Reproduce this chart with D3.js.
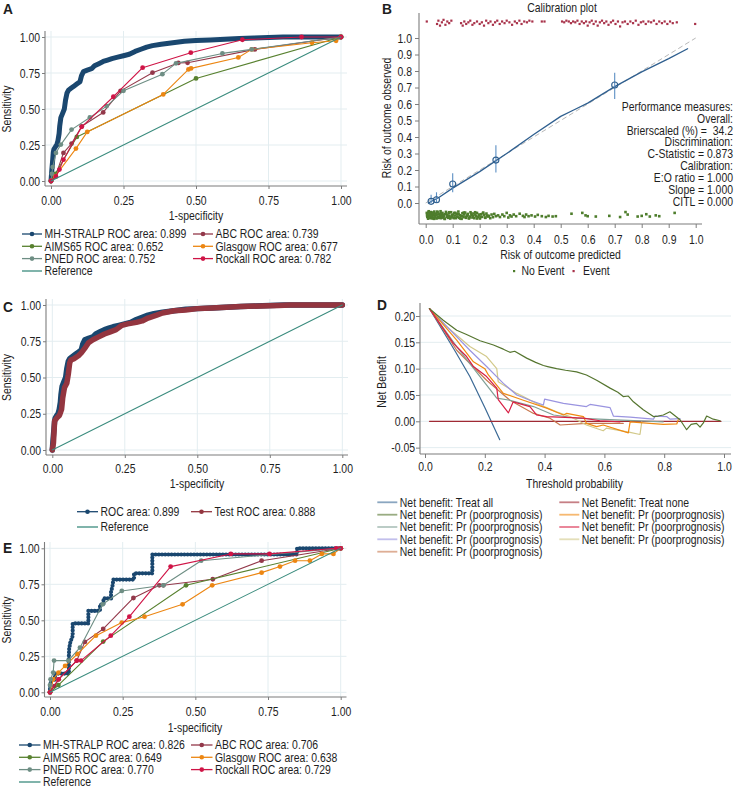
<!DOCTYPE html>
<html><head><meta charset="utf-8">
<script src="https://cdn.jsdelivr.net/npm/d3@7"></script>
<style>
body{margin:0;background:#fff}
svg{display:block}
text{font-family:"Liberation Sans",Arial,sans-serif;fill:#1e1e1e}
</style>
</head><body>
<svg id="c" width="734" height="789"></svg>
<script>
// ---------------- DATA ----------------
const rocTicks = [0, 0.25, 0.5, 0.75, 1];
const calTicks = [0,0.1,0.2,0.3,0.4,0.5,0.6,0.7,0.8,0.9,1];
const dcaXTicks = [0,0.2,0.4,0.6,0.8,1];
const dcaYTicks = [-0.05,0,0.05,0.1,0.15,0.2];

// Panel A ROC curves [1-specificity, sensitivity]
const rocA_MH = [[0,0],[0.003,0.08],[0.006,0.15],[0.008,0.2],[0.01,0.22],[0.016,0.24],[0.02,0.25],[0.024,0.28],[0.028,0.33],[0.03,0.38],[0.034,0.44],[0.04,0.47],[0.046,0.5],[0.05,0.56],[0.055,0.61],[0.06,0.63],[0.07,0.645],[0.08,0.66],[0.09,0.675],[0.1,0.69],[0.105,0.73],[0.112,0.76],[0.125,0.77],[0.14,0.78],[0.15,0.8],[0.165,0.815],[0.18,0.83],[0.195,0.84],[0.21,0.85],[0.23,0.86],[0.25,0.87],[0.27,0.88],[0.29,0.9],[0.31,0.915],[0.33,0.93],[0.35,0.94],[0.38,0.95],[0.42,0.96],[0.46,0.97],[0.5,0.975],[0.55,0.98],[0.6,0.985],[0.65,0.99],[0.7,0.993],[0.75,0.997],[0.8,1],[1,1]];
const rocA_ABC = [[0,0],[0.015,0.03],[0.043,0.195],[0.071,0.26],[0.106,0.38],[0.18,0.476],[0.24,0.626],[0.35,0.752],[0.439,0.82],[0.471,0.821],[0.703,0.914],[1,1]];
const rocA_AIMS = [[0,0],[0.015,0.05],[0.089,0.306],[0.5,0.712],[1,1]];
const rocA_Glasgow = [[0,0],[0.014,0.032],[0.086,0.225],[0.125,0.341],[0.387,0.601],[0.474,0.775],[0.483,0.782],[0.646,0.858],[0.692,0.914],[0.9,0.96],[0.983,0.974],[1,1]];
const rocA_PNED = [[0,0],[0.003,0.05],[0.006,0.097],[0.017,0.195],[0.034,0.253],[0.071,0.357],[0.134,0.441],[0.192,0.52],[0.25,0.626],[0.384,0.742],[0.431,0.817],[0.591,0.886],[0.692,0.914],[1,1]];
const rocA_Rockall = [[0,0],[0.017,0.032],[0.029,0.079],[0.043,0.148],[0.106,0.376],[0.215,0.585],[0.316,0.787],[0.482,0.891],[0.66,0.981],[0.864,1],[1,1]];
const refLine = [[0,0],[1,1]];
const legendA = ["MH-STRALP ROC area: 0.899","ABC ROC area: 0.739","AIMS65 ROC area: 0.652","Glasgow ROC area: 0.677","PNED ROC area: 0.752","Rockall ROC area: 0.782","Reference"];

// Panel C
const rocC_Test = [[0,0],[0.004,0.05],[0.008,0.2],[0.015,0.22],[0.025,0.24],[0.032,0.28],[0.036,0.36],[0.042,0.43],[0.05,0.46],[0.055,0.52],[0.06,0.6],[0.064,0.62],[0.075,0.63],[0.09,0.65],[0.1,0.67],[0.115,0.71],[0.125,0.74],[0.14,0.76],[0.16,0.78],[0.18,0.8],[0.2,0.815],[0.22,0.83],[0.24,0.86],[0.26,0.87],[0.29,0.88],[0.31,0.89],[0.33,0.91],[0.36,0.93],[0.38,0.945],[0.42,0.96],[0.46,0.965],[0.5,0.975],[0.55,0.98],[0.6,0.985],[0.65,0.99],[0.72,0.993],[0.78,0.997],[0.82,1],[1,1]];
const legendC = ["ROC area: 0.899","Test ROC area: 0.888","Reference"];

// Panel E
const rocE_MH = [[0,0],[0,0.043],[0.005,0.087],[0.017,0.087],[0.017,0.13],[0.065,0.13],[0.065,0.174],[0.065,0.217],[0.065,0.26],[0.066,0.304],[0.07,0.348],[0.078,0.391],[0.078,0.435],[0.078,0.478],[0.132,0.478],[0.132,0.522],[0.132,0.565],[0.172,0.565],[0.172,0.609],[0.184,0.609],[0.184,0.652],[0.21,0.652],[0.21,0.696],[0.215,0.739],[0.218,0.783],[0.289,0.783],[0.289,0.826],[0.352,0.826],[0.352,0.87],[0.352,0.913],[0.352,0.957],[0.85,0.957],[0.85,1],[1,1]];
const rocE_ABC = [[0,0],[0.015,0.043],[0.03,0.09],[0.092,0.22],[0.12,0.35],[0.183,0.44],[0.287,0.655],[0.376,0.743],[0.39,0.743],[0.56,0.785],[0.728,0.914],[1,1]];
const rocE_AIMS = [[0,0],[0.029,0.05],[0.183,0.352],[0.468,0.743],[1,1]];
const rocE_Glasgow = [[0,0],[0.011,0.09],[0.029,0.137],[0.052,0.183],[0.094,0.266],[0.158,0.393],[0.247,0.484],[0.325,0.525],[0.456,0.611],[0.558,0.743],[0.728,0.831],[0.791,0.873],[0.843,0.914],[0.894,0.914],[0.935,0.961],[0.975,0.961],[1,1]];
const rocE_PNED = [[0,0],[0,0.05],[0.002,0.09],[0.011,0.137],[0.014,0.22],[0.063,0.22],[0.103,0.31],[0.181,0.611],[0.247,0.704],[0.39,0.743],[0.52,0.914],[1,1]];
const rocE_Rockall = [[0,0],[0.029,0.09],[0.092,0.22],[0.107,0.22],[0.209,0.393],[0.273,0.525],[0.415,0.873],[0.622,0.961],[0.755,0.961],[0.985,1],[1,1]];
const legendE = ["MH-STRALP ROC area: 0.826","ABC ROC area: 0.706","AIMS65 ROC area: 0.649","Glasgow ROC area: 0.638","PNED ROC area: 0.770","Rockall ROC area: 0.729","Reference"];

// Panel B calibration
const calCurve = [[0.01,0.0],[0.05,0.035],[0.1,0.09],[0.2,0.19],[0.3,0.3],[0.4,0.415],[0.5,0.525],[0.55,0.565],[0.6,0.605],[0.7,0.705],[0.8,0.795],[0.9,0.875],[0.97,0.935]];
const calPtsX = [0.02,0.04,0.1,0.26,0.7];
const calPtsY = [0.01,0.02,0.115,0.26,0.715];
const calLo = [0.0,0.0,0.065,0.185,0.63];
const calHi = [0.05,0.065,0.18,0.35,0.79];
const eventPts = [[0.004,1.10],[0.042,1.085],[0.047,1.105],[0.053,1.075],[0.06,1.095],[0.066,1.11],[0.073,1.08],[0.08,1.1],[0.087,1.09],[0.095,1.105],[0.131,1.09],[0.137,1.075],[0.143,1.1],[0.15,1.085],[0.158,1.095],[0.165,1.105],[0.173,1.08],[0.18,1.09],[0.19,1.1],[0.2,1.085],[0.208,1.095],[0.216,1.075],[0.224,1.105],[0.232,1.09],[0.24,1.1],[0.249,1.08],[0.257,1.095],[0.265,1.105],[0.274,1.085],[0.283,1.1],[0.292,1.09],[0.3,1.105],[0.31,1.095],[0.32,1.08],[0.33,1.1],[0.338,1.09],[0.347,1.105],[0.355,1.085],[0.365,1.1],[0.375,1.095],[0.384,1.105],[0.395,1.1],[0.43,1.1],[0.44,1.1],[0.505,1.1],[0.513,1.095],[0.521,1.105],[0.53,1.1],[0.538,1.09],[0.546,1.1],[0.554,1.095],[0.562,1.105],[0.57,1.085],[0.578,1.1],[0.586,1.09],[0.594,1.1],[0.6,1.075],[0.607,1.095],[0.615,1.105],[0.622,1.085],[0.63,1.1],[0.637,1.075],[0.645,1.095],[0.653,1.105],[0.661,1.09],[0.669,1.1],[0.677,1.08],[0.686,1.095],[0.694,1.105],[0.703,1.085],[0.712,1.1],[0.72,1.07],[0.729,1.095],[0.738,1.1],[0.748,1.085],[0.758,1.1],[0.768,1.09],[0.778,1.105],[0.788,1.08],[0.797,1.095],[0.806,1.1],[0.815,1.085],[0.825,1.1],[0.835,1.095],[0.845,1.105],[0.855,1.085],[0.865,1.1],[0.875,1.09],[0.885,1.1],[0.895,1.085],[0.905,1.1],[0.915,1.09],[0.93,1.095],[0.998,1.085]];
const noEventX = [0.004,0.006,0.007,0.009,0.011,0.012,0.014,0.015,0.017,0.019,
0.02,0.022,0.024,0.025,0.027,0.029,0.031,0.032,0.034,0.036,
0.038,0.04,0.042,0.044,0.046,0.048,0.05,0.053,0.055,0.057,
0.06,0.062,0.065,0.067,0.07,0.072,0.075,0.078,0.08,0.083,
0.086,0.088,0.091,0.094,0.097,0.1,0.103,0.106,0.109,0.112,
0.115,0.118,0.121,0.124,0.127,0.13,0.133,0.136,0.14,0.143,
0.146,0.15,0.153,0.156,0.16,0.163,0.166,0.17,0.173,0.177,
0.18,0.184,0.187,0.19,0.194,0.198,0.201,0.205,0.209,0.213,
0.217,0.221,0.225,0.23,0.234,0.239,0.244,0.249,0.254,0.26,
0.268,0.275,0.284,0.291,0.3,0.306,0.312,0.318,0.326,0.335,
0.348,0.36,0.366,0.372,0.381,0.392,0.405,0.415,0.43,0.445,
0.455,0.47,0.482,0.54,0.58,0.592,0.6,0.63,0.68,0.72,
0.74,0.748,0.785,0.8,0.817,0.83,0.852,0.865,0.922,
0.005,0.01,0.013,0.016,0.021,0.026,0.03,0.035,0.039,0.043,
0.047,0.052,0.056,0.061,0.066,0.071,0.076,0.081,0.087,0.092,
0.098,0.104,0.11,0.116,0.122,0.128,0.135,0.141,0.148,0.155,
0.162,0.169,0.176,0.183,0.19,0.197,0.204,0.212,0.22,0.228];
const noEventY = [-0.06,-0.085,-0.07,-0.095,-0.05,-0.078,-0.09,-0.062,-0.082,-0.055,
-0.092,-0.068,-0.08,-0.058,-0.088,-0.072,-0.096,-0.052,-0.076,-0.086,
-0.064,-0.094,-0.07,-0.056,-0.084,-0.09,-0.066,-0.078,-0.05,-0.092,
-0.074,-0.06,-0.088,-0.08,-0.096,-0.068,-0.054,-0.084,-0.072,-0.09,
-0.062,-0.078,-0.094,-0.056,-0.082,-0.07,-0.088,-0.06,-0.076,-0.092,
-0.066,-0.084,-0.052,-0.09,-0.074,-0.08,-0.096,-0.062,-0.086,-0.07,
-0.058,-0.09,-0.078,-0.066,-0.094,-0.082,-0.056,-0.074,-0.088,-0.064,
-0.092,-0.07,-0.08,-0.06,-0.086,-0.076,-0.094,-0.068,-0.084,-0.058,
-0.072,-0.09,-0.064,-0.082,-0.078,-0.092,-0.07,-0.086,-0.066,-0.08,
-0.075,-0.085,-0.07,-0.08,-0.06,-0.088,-0.075,-0.082,-0.07,-0.08,
-0.065,-0.078,-0.085,-0.07,-0.08,-0.075,-0.082,-0.072,-0.08,-0.085,
-0.078,-0.082,-0.08,-0.065,-0.06,-0.075,-0.08,-0.082,-0.078,-0.085,
-0.055,-0.07,-0.082,-0.078,-0.068,-0.082,-0.075,-0.08,-0.06,
-0.075,-0.058,-0.088,-0.066,-0.08,-0.094,-0.06,-0.084,-0.07,-0.052,
-0.09,-0.076,-0.062,-0.086,-0.072,-0.096,-0.064,-0.08,-0.056,-0.088,
-0.074,-0.092,-0.06,-0.082,-0.068,-0.094,-0.078,-0.058,-0.086,-0.072,
-0.09,-0.064,-0.08,-0.056,-0.094,-0.07,-0.084,-0.062,-0.088,-0.076];
const perfText = ["Performance measures:","Overall:","Brierscaled (%) =  34.2","Discrimination:","C-Statistic = 0.873","Calibration:","E:O ratio = 1.000","Slope = 1.000","CITL = 0.000"];

// Panel D decision curves [threshold, net benefit]
const nbTreatAll = [[0.015,0.214],[0.1,0.134],[0.15,0.085],[0.2,0.026],[0.25,-0.035]];
const nbTreatNone = [[0.015,0],[0.99,0]];
const nbGreen = [[0.015,0.214],[0.061,0.192],[0.106,0.173],[0.139,0.165],[0.184,0.153],[0.229,0.145],[0.262,0.137],[0.284,0.131],[0.3,0.133],[0.34,0.12],[0.37,0.112],[0.396,0.106],[0.41,0.104],[0.44,0.1],[0.47,0.097],[0.507,0.094],[0.54,0.088],[0.574,0.078],[0.619,0.063],[0.645,0.055],[0.663,0.047],[0.68,0.048],[0.697,0.037],[0.73,0.022],[0.764,0.009],[0.78,0.01],[0.797,0.012],[0.819,0.018],[0.853,0.003],[0.875,-0.016],[0.89,-0.006],[0.908,-0.004],[0.92,-0.011],[0.931,-0.003],[0.942,0.01],[0.964,0.004],[0.987,0.001]];
const nbOrange = [[0.015,0.214],[0.106,0.154],[0.162,0.113],[0.2,0.1],[0.212,0.088],[0.262,0.053],[0.329,0.04],[0.407,0.025],[0.463,0.012],[0.474,0.015],[0.53,0.009],[0.54,-0.004],[0.574,-0.01],[0.596,-0.007],[0.68,-0.022],[0.686,-0.001],[0.797,-0.006],[0.842,-0.005],[0.847,0.003]];
const nbTeal = [[0.015,0.214],[0.106,0.142],[0.184,0.085],[0.24,0.044],[0.284,0.04],[0.363,0.028],[0.43,0.012],[0.507,0.006],[0.619,0.003],[0.797,-0.001]];
const nbRed = [[0.015,0.214],[0.095,0.148],[0.139,0.123],[0.162,0.104],[0.206,0.085],[0.24,0.063],[0.245,0.041],[0.279,0.016],[0.295,0.037],[0.351,0.028],[0.373,0.012],[0.407,0.009],[0.53,0.006],[0.585,0.001],[0.652,-0.001]];
const nbLavender = [[0.015,0.214],[0.15,0.135],[0.206,0.104],[0.262,0.072],[0.307,0.05],[0.351,0.04],[0.396,0.031],[0.4,0.042],[0.463,0.034],[0.54,0.028],[0.552,0.032],[0.619,0.026],[0.63,0.01],[0.686,0.008],[0.764,0.004],[0.77,0.01],[0.808,0.009],[0.82,0.004],[0.853,0.005]];
const nbKhaki = [[0.015,0.214],[0.072,0.18],[0.15,0.142],[0.206,0.123],[0.24,0.1],[0.245,0.075],[0.307,0.053],[0.373,0.034],[0.44,0.018],[0.485,0.009],[0.54,-0.007],[0.596,-0.018],[0.607,-0.013],[0.686,-0.021],[0.719,-0.025],[0.725,-0.001]];
const nbSienna = [[0.015,0.214],[0.106,0.135],[0.206,0.078],[0.284,0.04],[0.363,0.015],[0.418,0.006],[0.452,-0.007],[0.54,-0.004],[0.663,-0.004]];
const legendD = ["Net benefit: Treat all","Net Benefit: Treat none","Net benefit: Pr (poorprognosis)","Net benefit: Pr (poorprognosis)","Net benefit: Pr (poorprognosis)","Net benefit: Pr (poorprognosis)","Net benefit: Pr (poorprognosis)","Net benefit: Pr (poorprognosis)","Net benefit: Pr (poorprognosis)"];

// ---------------- STYLE ----------------
const GRID = '#e3edf0', AX = '#7d7d7d', FS = 12, SX = 0.87;
const C = {navy:'#1a476f', maroon:'#93384a', green:'#58812f', orange:'#ec8612', teal:'#6e8e84', cran:'#cf1446', ref:'#3b8c7e'};
const D = {all:'#3c6a96', none:'#a02a34', green:'#55752f', orange:'#f08a12', teal:'#80a096', red:'#d81f44', lav:'#9a94e0', khaki:'#d2c98a', sienna:'#c8784f'};

const svg = d3.select('#c');

function txt(g, x, y, s, o = {}) {
  const t = g.append('text')
    .attr('transform', `translate(${x},${y}) rotate(${o.rot||0}) scale(${o.sx ?? SX},1)`)
    .attr('text-anchor', o.anchor || 'start').attr('dy', '0.35em')
    .style('font-size', (o.size || FS) + 'px').style('font-weight', o.weight || 'normal')
    .style('white-space', 'pre').text(s);
  if (o.fill) t.style('fill', o.fill);
  return t;
}

function axes(xs, ys, reg, xt, yt, xf, yf, o) {
  const g = svg.append('g');
  const tk = o.tick;
  if (o.gridY) g.append('g').selectAll('line').data(yt).join('line')
    .attr('x1', reg.l).attr('x2', reg.r).attr('y1', d => ys(d)).attr('y2', d => ys(d))
    .attr('stroke', GRID).attr('stroke-width', 1);
  if (o.gridX) g.append('g').selectAll('line').data(xt).join('line')
    .attr('y1', reg.t).attr('y2', reg.b).attr('x1', d => xs(d)).attr('x2', d => xs(d))
    .attr('stroke', GRID).attr('stroke-width', 1);
  const ax = g.append('g').attr('transform', `translate(0,${reg.b})`)
    .call(d3.axisBottom(xs).tickValues(xt).tickFormat(xf).tickSize(tk).tickSizeOuter(0));
  ax.attr('font-size', null).attr('font-family', null);
  ax.select('.domain').remove();
  ax.selectAll('.tick line').attr('stroke', AX);
  ax.selectAll('.tick text').attr('y', null).attr('dy', '0.35em').attr('fill', '#1e1e1e')
    .attr('transform', `translate(0,${o.xLab}) scale(${SX},1)`).style('font-size', FS + 'px');
  const ay = g.append('g').attr('transform', `translate(${reg.l},0)`)
    .call(d3.axisLeft(ys).tickValues(yt).tickFormat(yf).tickSize(tk).tickSizeOuter(0));
  ay.attr('font-size', null).attr('font-family', null);
  ay.select('.domain').remove();
  ay.selectAll('.tick line').attr('stroke', AX);
  ay.selectAll('.tick text').attr('x', null).attr('dy', '0.35em').attr('text-anchor', 'end').attr('fill', '#1e1e1e')
    .attr('transform', `translate(${-o.yLab},0) scale(${SX},1)`).style('font-size', FS + 'px');
  g.append('line').attr('x1', reg.l).attr('x2', reg.r).attr('y1', reg.b).attr('y2', reg.b).attr('stroke', AX).attr('stroke-width', 1.1);
  g.append('line').attr('x1', reg.l).attr('x2', reg.l).attr('y1', reg.t).attr('y2', reg.b).attr('stroke', AX).attr('stroke-width', 1.1);
  return g;
}

function curve(data, xs, ys, color, o = {}) {
  const line = d3.line().x(d => xs(d[0])).y(d => ys(d[1]));
  const p = svg.append('path').attr('d', line(data)).attr('fill', 'none').attr('stroke', color)
    .attr('stroke-width', o.w || 1.1).attr('stroke-linejoin', 'round').attr('stroke-linecap', 'round');
  if (o.opacity) p.attr('stroke-opacity', o.opacity);
  if (o.beads) {
    svg.append('path').attr('d', line(data)).attr('fill', 'none').attr('stroke', color)
      .attr('stroke-width', o.beads).attr('stroke-linecap', 'round').attr('stroke-dasharray', '0 3.2');
  }
  if (o.dots) svg.append('g').selectAll('circle').data(data).join('circle')
    .attr('cx', d => xs(d[0])).attr('cy', d => ys(d[1])).attr('r', o.dots).attr('fill', color);
}

function legendItem(x1, x2, y, color, label, o = {}) {
  svg.append('line').attr('x1', x1).attr('x2', x2).attr('y1', y).attr('y2', y).attr('stroke', color)
    .attr('stroke-width', o.w || 1.3).attr('stroke-opacity', o.opacity || 1);
  if (o.dot) svg.append('circle').attr('cx', (x1 + x2) / 2).attr('cy', y).attr('r', o.dot).attr('fill', color);
  txt(svg, x2 + 2.5, y, label);
}

const f2 = d => d.toFixed(2), f1 = d => d.toFixed(1);

// ---------------- PANEL A ----------------
{
  const xs = d3.scaleLinear([0, 1], [51, 341]), ys = d3.scaleLinear([0, 1], [181, 37]);
  const reg = {l: 45, r: 347, t: 31, b: 186};
  axes(xs, ys, reg, rocTicks, rocTicks, f2, f2, {tick: 3, xLab: 15, yLab: 5, gridX: true, gridY: true});
  curve(rocA_MH, xs, ys, C.navy, {w: 5});
  const others = [[rocA_ABC, C.maroon], [rocA_AIMS, C.green], [rocA_Glasgow, C.orange], [rocA_PNED, C.teal], [rocA_Rockall, C.cran]];
  others.forEach(([d, c]) => curve(d, xs, ys, c, {w: 1.1, dots: 2.4}));
  curve(refLine, xs, ys, C.ref, {w: 1.1});
  txt(svg, 196, 216, '1-specificity', {anchor: 'middle'});
  txt(svg, 7, 109, 'Sensitivity', {anchor: 'middle', rot: -90});
  const cols = [C.navy, C.maroon, C.green, C.orange, C.teal, C.cran, C.ref];
  const rows = [234, 246.3, 258.6, 271];
  legendA.forEach((lab, i) => {
    const r = Math.floor(i / 2), c = i % 2;
    const x1 = c === 0 ? 22 : 193;
    legendItem(x1, x1 + 20, rows[r], cols[i], lab, {dot: i < 6 ? 2.3 : 0});
  });
  txt(svg, 3, 8.5, 'A', {size: 14.5, weight: 'bold', sx: 0.95});
}

// ---------------- PANEL B ----------------
{
  const xs = d3.scaleLinear([0, 1], [425.7, 695.7]), ys = d3.scaleLinear([0, 1], [203, 38]);
  const reg = {l: 419, r: 702, t: 13, b: 224};
  axes(xs, ys, reg, calTicks, calTicks, f1, f1, {tick: 4, xLab: 16, yLab: 7, gridX: false, gridY: false});
  svg.append('g').selectAll('rect').data(eventPts).join('rect')
    .attr('x', d => xs(d[0]) - 1.1).attr('y', d => ys(d[1]) - 1.1).attr('width', 2.2).attr('height', 2.2).attr('fill', '#a8324a');
  const ne = noEventX.map((x, i) => [x, noEventY[i]]).filter(d => d[1] !== undefined);
  svg.append('g').selectAll('rect').data(ne).join('rect')
    .attr('x', d => xs(d[0]) - 1.3).attr('y', d => ys(d[1]) - 1.3).attr('width', 2.6).attr('height', 2.6).attr('fill', '#4e7d2c');
  svg.append('line').attr('x1', xs(0)).attr('y1', ys(0)).attr('x2', xs(1)).attr('y2', ys(1))
    .attr('stroke', '#b8b8b8').attr('stroke-width', 1).attr('stroke-dasharray', '5 3');
  curve(calCurve, xs, ys, '#2f5f8f', {w: 1.3});
  calPtsX.forEach((x, i) => {
    svg.append('line').attr('x1', xs(x)).attr('x2', xs(x)).attr('y1', ys(calLo[i])).attr('y2', ys(calHi[i]))
      .attr('stroke', '#5b8fc4').attr('stroke-width', 1.1);
    svg.append('circle').attr('cx', xs(x)).attr('cy', ys(calPtsY[i])).attr('r', 3)
      .attr('fill', 'none').attr('stroke', '#2f5f8f').attr('stroke-width', 1.1);
  });
  txt(svg, 562, 7.5, 'Calibration plot', {anchor: 'middle'});
  txt(svg, 560.5, 255, 'Risk of outcome predicted', {anchor: 'middle'});
  txt(svg, 387, 118, 'Risk of outcome observed', {anchor: 'middle', rot: -90});
  perfText.forEach((s, i) => txt(svg, 733, 106.5 + i * 11.9, s, {anchor: 'end'}));
  svg.append('rect').attr('x', 513).attr('y', 270).attr('width', 2.2).attr('height', 2.2).attr('fill', '#4e7d2c');
  txt(svg, 521.5, 271, 'No Event');
  svg.append('rect').attr('x', 572.5).attr('y', 270).attr('width', 2.2).attr('height', 2.2).attr('fill', '#a8324a');
  txt(svg, 583, 271, 'Event');
  txt(svg, 382, 8.5, 'B', {size: 14.5, weight: 'bold', sx: 0.95});
}

// ---------------- PANEL C ----------------
{
  const xs = d3.scaleLinear([0, 1], [52.3, 342.3]), ys = d3.scaleLinear([0, 1], [450, 305]);
  const reg = {l: 46, r: 348, t: 299, b: 455};
  axes(xs, ys, reg, rocTicks, rocTicks, f2, f2, {tick: 3, xLab: 13.5, yLab: 5, gridX: true, gridY: true});
  curve(rocA_MH, xs, ys, C.navy, {w: 5.5});
  curve(rocC_Test, xs, ys, '#93353f', {w: 5.5});
  curve(refLine, xs, ys, C.ref, {w: 1.1});
  txt(svg, 197, 484, '1-specificity', {anchor: 'middle'});
  txt(svg, 7, 377.5, 'Sensitivity', {anchor: 'middle', rot: -90});
  legendItem(77, 98, 511.7, C.navy, legendC[0], {dot: 2.3});
  legendItem(191, 212, 511.7, '#93353f', legendC[1], {dot: 2.3});
  legendItem(77, 98, 527, C.ref, legendC[2]);
  txt(svg, 3, 307, 'C', {size: 14.5, weight: 'bold', sx: 0.95});
}

// ---------------- PANEL D ----------------
{
  const xs = d3.scaleLinear([0, 1], [425, 724]), ys = d3.scaleLinear([0, 0.2], [421.3, 316]);
  const reg = {l: 420, r: 731, t: 303, b: 454};
  axes(xs, ys, reg, dcaXTicks, dcaYTicks, f1, f2, {tick: 4, xLab: 13, yLab: 5, gridX: false, gridY: true});
  const series = [[nbTreatAll, D.all], [nbTreatNone, D.none], [nbGreen, D.green], [nbOrange, D.orange], [nbTeal, D.teal], [nbRed, D.red], [nbLavender, D.lav], [nbKhaki, D.khaki], [nbSienna, D.sienna]];
  const drawOrder = [0, 1, 8, 4, 7, 6, 3, 5, 2];
  drawOrder.forEach(i => curve(series[i][0], xs, ys, series[i][1], {w: 1.2}));
  txt(svg, 574.5, 483.3, 'Threshold probability', {anchor: 'middle'});
  txt(svg, 382, 382, 'Net Benefit', {anchor: 'middle', rot: -90});
  const rows = [502.3, 514.7, 527, 539.3, 551.7];
  legendD.forEach((lab, i) => {
    const r = Math.floor(i / 2), c = i % 2;
    const x1 = c === 0 ? 377.3 : 559.3;
    legendItem(x1, x1 + 20, rows[r], series[i][1], lab, {w: 1.8, opacity: 0.6});
  });
  txt(svg, 377, 305, 'D', {size: 14.5, weight: 'bold', sx: 0.95});
}

// ---------------- PANEL E ----------------
{
  const xs = d3.scaleLinear([0, 1], [50, 340.7]), ys = d3.scaleLinear([0, 1], [692.3, 548.3]);
  const reg = {l: 44.5, r: 346.5, t: 542, b: 697};
  axes(xs, ys, reg, rocTicks, rocTicks, f2, f2, {tick: 3, xLab: 14.5, yLab: 5, gridX: true, gridY: true});
  curve(rocE_MH, xs, ys, C.navy, {w: 1.3, beads: 4.2});
  const others = [[rocE_ABC, C.maroon], [rocE_AIMS, C.green], [rocE_Glasgow, C.orange], [rocE_PNED, C.teal], [rocE_Rockall, C.cran]];
  others.forEach(([d, c]) => curve(d, xs, ys, c, {w: 1.1, dots: 2.4}));
  curve(refLine, xs, ys, C.ref, {w: 1.1});
  txt(svg, 195, 727.7, '1-specificity', {anchor: 'middle'});
  txt(svg, 7, 620, 'Sensitivity', {anchor: 'middle', rot: -90});
  const cols = [C.navy, C.maroon, C.green, C.orange, C.teal, C.cran, C.ref];
  const rows = [745, 757.3, 769.6, 782];
  legendE.forEach((lab, i) => {
    const r = Math.floor(i / 2), c = i % 2;
    const x1 = c === 0 ? 19 : 191;
    legendItem(x1, x1 + 21.5, rows[r], cols[i], lab, {dot: i < 6 ? 2.3 : 0});
  });
  txt(svg, 3, 548, 'E', {size: 14.5, weight: 'bold', sx: 0.95});
}
</script>
</body></html>
